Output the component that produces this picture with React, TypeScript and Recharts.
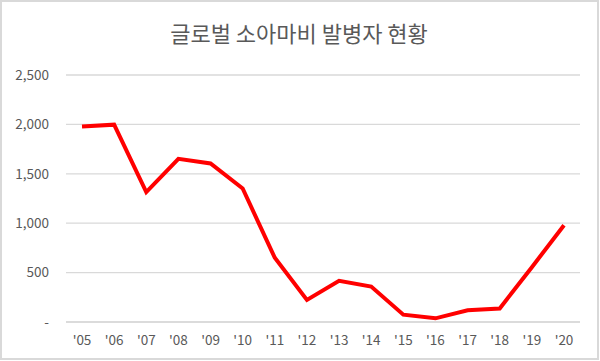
import React from 'react'
import { LineChart, Line, XAxis, YAxis, CartesianGrid } from 'recharts'

const years = ["'05", "'06", "'07", "'08", "'09", "'10", "'11", "'12", "'13", "'14", "'15", "'16", "'17", "'18", "'19", "'20"]
const cases = [1979, 1997, 1315, 1651, 1604, 1352, 650, 223, 416, 359, 74, 37, 118, 137, 555, 979]
const yTicks = [0, 500, 1000, 1500, 2000, 2500]

const data = years.map((year, i) => ({ year, cases: cases[i] }))

const font = '"Noto Sans CJK KR", "Noto Sans", sans-serif'
const gray = '#595959'

const formatTick = (v: number) => (v === 0 ? '-' : v.toLocaleString('en-US'))

/**
 * Global polio cases, 2005-2020
 */
export default function App() {
  return (
    <div
      style={{
        position: 'absolute',
        top: 0,
        left: 0,
        width: 600,
        height: 361,
        background: '#fff',
        fontFamily: font,
      }}
    >
      <div
        style={{
          position: 'absolute',
          top: 0,
          left: 0,
          width: 599,
          height: 360,
          boxSizing: 'border-box',
          border: '2px solid #d9d9d9',
          pointerEvents: 'none',
        }}
      />
      <div
        style={{
          position: 'absolute',
          top: 17,
          left: 0,
          width: 598,
          textAlign: 'center',
          fontSize: 22,
          lineHeight: '30px',
          color: gray,
        }}
      >
        글로벌 소아마비 발병자 현황
      </div>
      <LineChart
        width={600}
        height={361}
        data={data}
        margin={{ top: 75, right: 20, left: 0, bottom: 9 }}
      >
        <CartesianGrid vertical={false} stroke="#d9d9d9" strokeWidth={1.3} />
        <XAxis
          dataKey="year"
          height={30}
          padding={{ left: 16, right: 16 }}
          axisLine={{ stroke: '#d9d9d9', strokeWidth: 1.3 }}
          tickLine={false}
          tickSize={0}
          tickMargin={13}
          interval={0}
          tick={{ fill: gray, fontSize: 13.5, fontFamily: font }}
        />
        <YAxis
          width={66}
          domain={[0, 2500]}
          ticks={yTicks}
          axisLine={false}
          tickLine={false}
          tickSize={0}
          tickMargin={17}
          tickFormatter={formatTick}
          tick={{ fill: gray, fontSize: 13.5, fontFamily: font }}
        />
        <Line
          type="linear"
          dataKey="cases"
          stroke="#ff0000"
          strokeWidth={4}
          dot={false}
          isAnimationActive={false}
        />
      </LineChart>
    </div>
  )
}
